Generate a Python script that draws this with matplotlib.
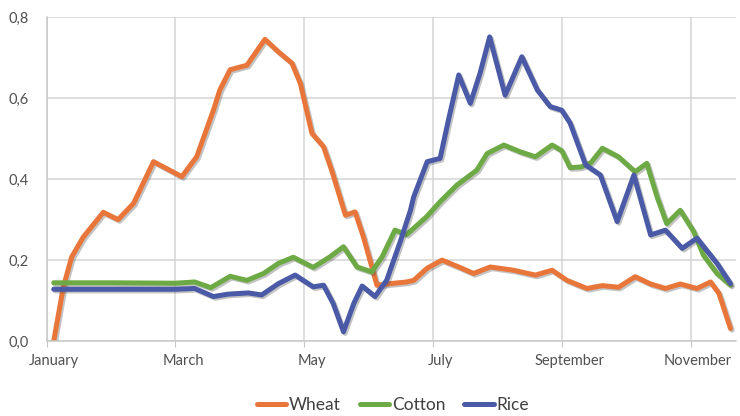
import matplotlib
matplotlib.use("Agg")
import matplotlib.pyplot as plt
import matplotlib.patheffects as pe
from matplotlib.transforms import ScaledTranslation

# x positions in months (0 = start of January)
wheat_x = [0.11, 0.26, 0.39, 0.57, 0.88, 1.11, 1.35, 1.66, 2.10, 2.33, 2.59, 2.69, 2.85,
           3.11, 3.39, 3.60, 3.81, 3.94, 4.12, 4.30, 4.43, 4.64, 4.79, 4.92, 5.13, 5.34,
           5.59, 5.70, 5.91, 6.14, 6.40, 6.63, 6.89, 7.25, 7.59, 7.85, 8.08, 8.39, 8.63,
           8.88, 9.14, 9.38, 9.61, 9.84, 10.10, 10.31, 10.44, 10.62]
wheat_y = [0.0, 0.134, 0.208, 0.257, 0.318, 0.300, 0.340, 0.443, 0.406, 0.455, 0.570, 0.620, 0.670,
           0.681, 0.745, 0.714, 0.686, 0.636, 0.513, 0.480, 0.420, 0.311, 0.319, 0.257, 0.138, 0.142,
           0.146, 0.150, 0.180, 0.200, 0.183, 0.167, 0.183, 0.175, 0.163, 0.175, 0.150, 0.130, 0.137,
           0.133, 0.159, 0.141, 0.130, 0.141, 0.130, 0.146, 0.118, 0.031]

cotton_x = [0.11, 1.00, 2.00, 2.30, 2.55, 2.85, 3.11, 3.37, 3.60, 3.83, 4.14, 4.40, 4.61,
            4.82, 5.05, 5.21, 5.41, 5.59, 5.90, 6.11, 6.37, 6.68, 6.84, 7.10, 7.36, 7.59,
            7.85, 8.00, 8.13, 8.30, 8.45, 8.63, 8.88, 9.14, 9.32, 9.48, 9.63, 9.84, 10.05,
            10.20, 10.41, 10.62]
cotton_y = [0.144, 0.144, 0.143, 0.146, 0.132, 0.160, 0.150, 0.167, 0.192, 0.207, 0.182, 0.208, 0.233,
            0.183, 0.171, 0.208, 0.274, 0.263, 0.307, 0.344, 0.385, 0.422, 0.463, 0.484, 0.467, 0.455,
            0.484, 0.470, 0.428, 0.430, 0.440, 0.476, 0.455, 0.418, 0.439, 0.356, 0.290, 0.323, 0.270,
            0.212, 0.167, 0.138]

rice_x = [0.11, 1.00, 2.00, 2.30, 2.59, 2.82, 3.13, 3.34, 3.60, 3.86, 4.14, 4.30, 4.45, 4.61,
          4.77, 4.90, 5.10, 5.28, 5.49, 5.65, 5.70, 5.91, 6.11, 6.24, 6.40, 6.58, 6.73, 6.88,
          7.12, 7.38, 7.62, 7.82, 8.00, 8.13, 8.37, 8.60, 8.86, 9.12, 9.38, 9.61, 9.87, 10.10,
          10.41, 10.62]
rice_y = [0.128, 0.128, 0.128, 0.130, 0.110, 0.116, 0.119, 0.114, 0.142, 0.163, 0.134, 0.138, 0.093, 0.023,
          0.093, 0.136, 0.110, 0.150, 0.245, 0.323, 0.356, 0.443, 0.451, 0.546, 0.657, 0.587, 0.661, 0.751,
          0.607, 0.702, 0.620, 0.579, 0.570, 0.538, 0.435, 0.410, 0.295, 0.410, 0.262, 0.274, 0.229, 0.254,
          0.192, 0.142]

tick_pos = [0, 2, 4, 6, 8, 10]
tick_labels = ["January", "March", "May", "July", "September", "November"]
y_ticks = [0.0, 0.2, 0.4, 0.6, 0.8]
y_labels = ["0,0", "0,2", "0,4", "0,6", "0,8"]

plt.rcParams['font.family'] = ['Lato', 'DejaVu Sans']

fig = plt.figure(figsize=(7.4, 4.16), dpi=100)
ax = fig.add_axes([0.063, 0.180, 0.932, 0.779])

shadow = [pe.SimpleLineShadow(offset=(1.2, -1.2), shadow_color='#555555', alpha=0.35),
          pe.Normal()]
series = [("Wheat", wheat_x, wheat_y, "#E8763A"),
          ("Cotton", cotton_x, cotton_y, "#6DAA45"),
          ("Rice", rice_x, rice_y, "#4A5AA6")]
for name, xs, ys, c in series:
    ax.plot(xs, ys, color=c, lw=3.6, label=name, solid_joinstyle='round',
            solid_capstyle='round', path_effects=shadow)

ax.set_xlim(0, 10.71)
ax.set_ylim(0, 0.8)
ax.set_xticks(tick_pos)
ax.set_xticklabels(tick_labels)
ax.set_yticks(y_ticks)
ax.set_yticklabels(y_labels)
ax.grid(True, color='#D4D4D4', lw=1.1)
ax.set_axisbelow(True)
for s in ['top', 'right']:
    ax.spines[s].set_visible(False)
for s in ['left', 'bottom']:
    ax.spines[s].set_color('#C8C8C8')
    ax.spines[s].set_linewidth(1.1)
ax.tick_params(axis='x', length=4, color='#C8C8C8', labelcolor='#505050', labelsize=10.5, pad=5)
ax.tick_params(axis='y', length=0, labelcolor='#505050', labelsize=10.5, pad=13)
off = ScaledTranslation(7.5 / 100, 0, fig.dpi_scale_trans)
for lbl in ax.get_xticklabels():
    lbl.set_transform(lbl.get_transform() + off)

leg = fig.legend(loc='center', bbox_to_anchor=(0.531, 0.027), ncol=3, frameon=False,
                 fontsize=12.5, handlelength=1.7, handletextpad=0.15, columnspacing=1.1,
                 labelcolor='#404040')
for h in leg.legend_handles:
    h.set_linewidth(3.6)
    h.set_path_effects([])

fig.savefig("out.png", dpi=100, facecolor='white')
